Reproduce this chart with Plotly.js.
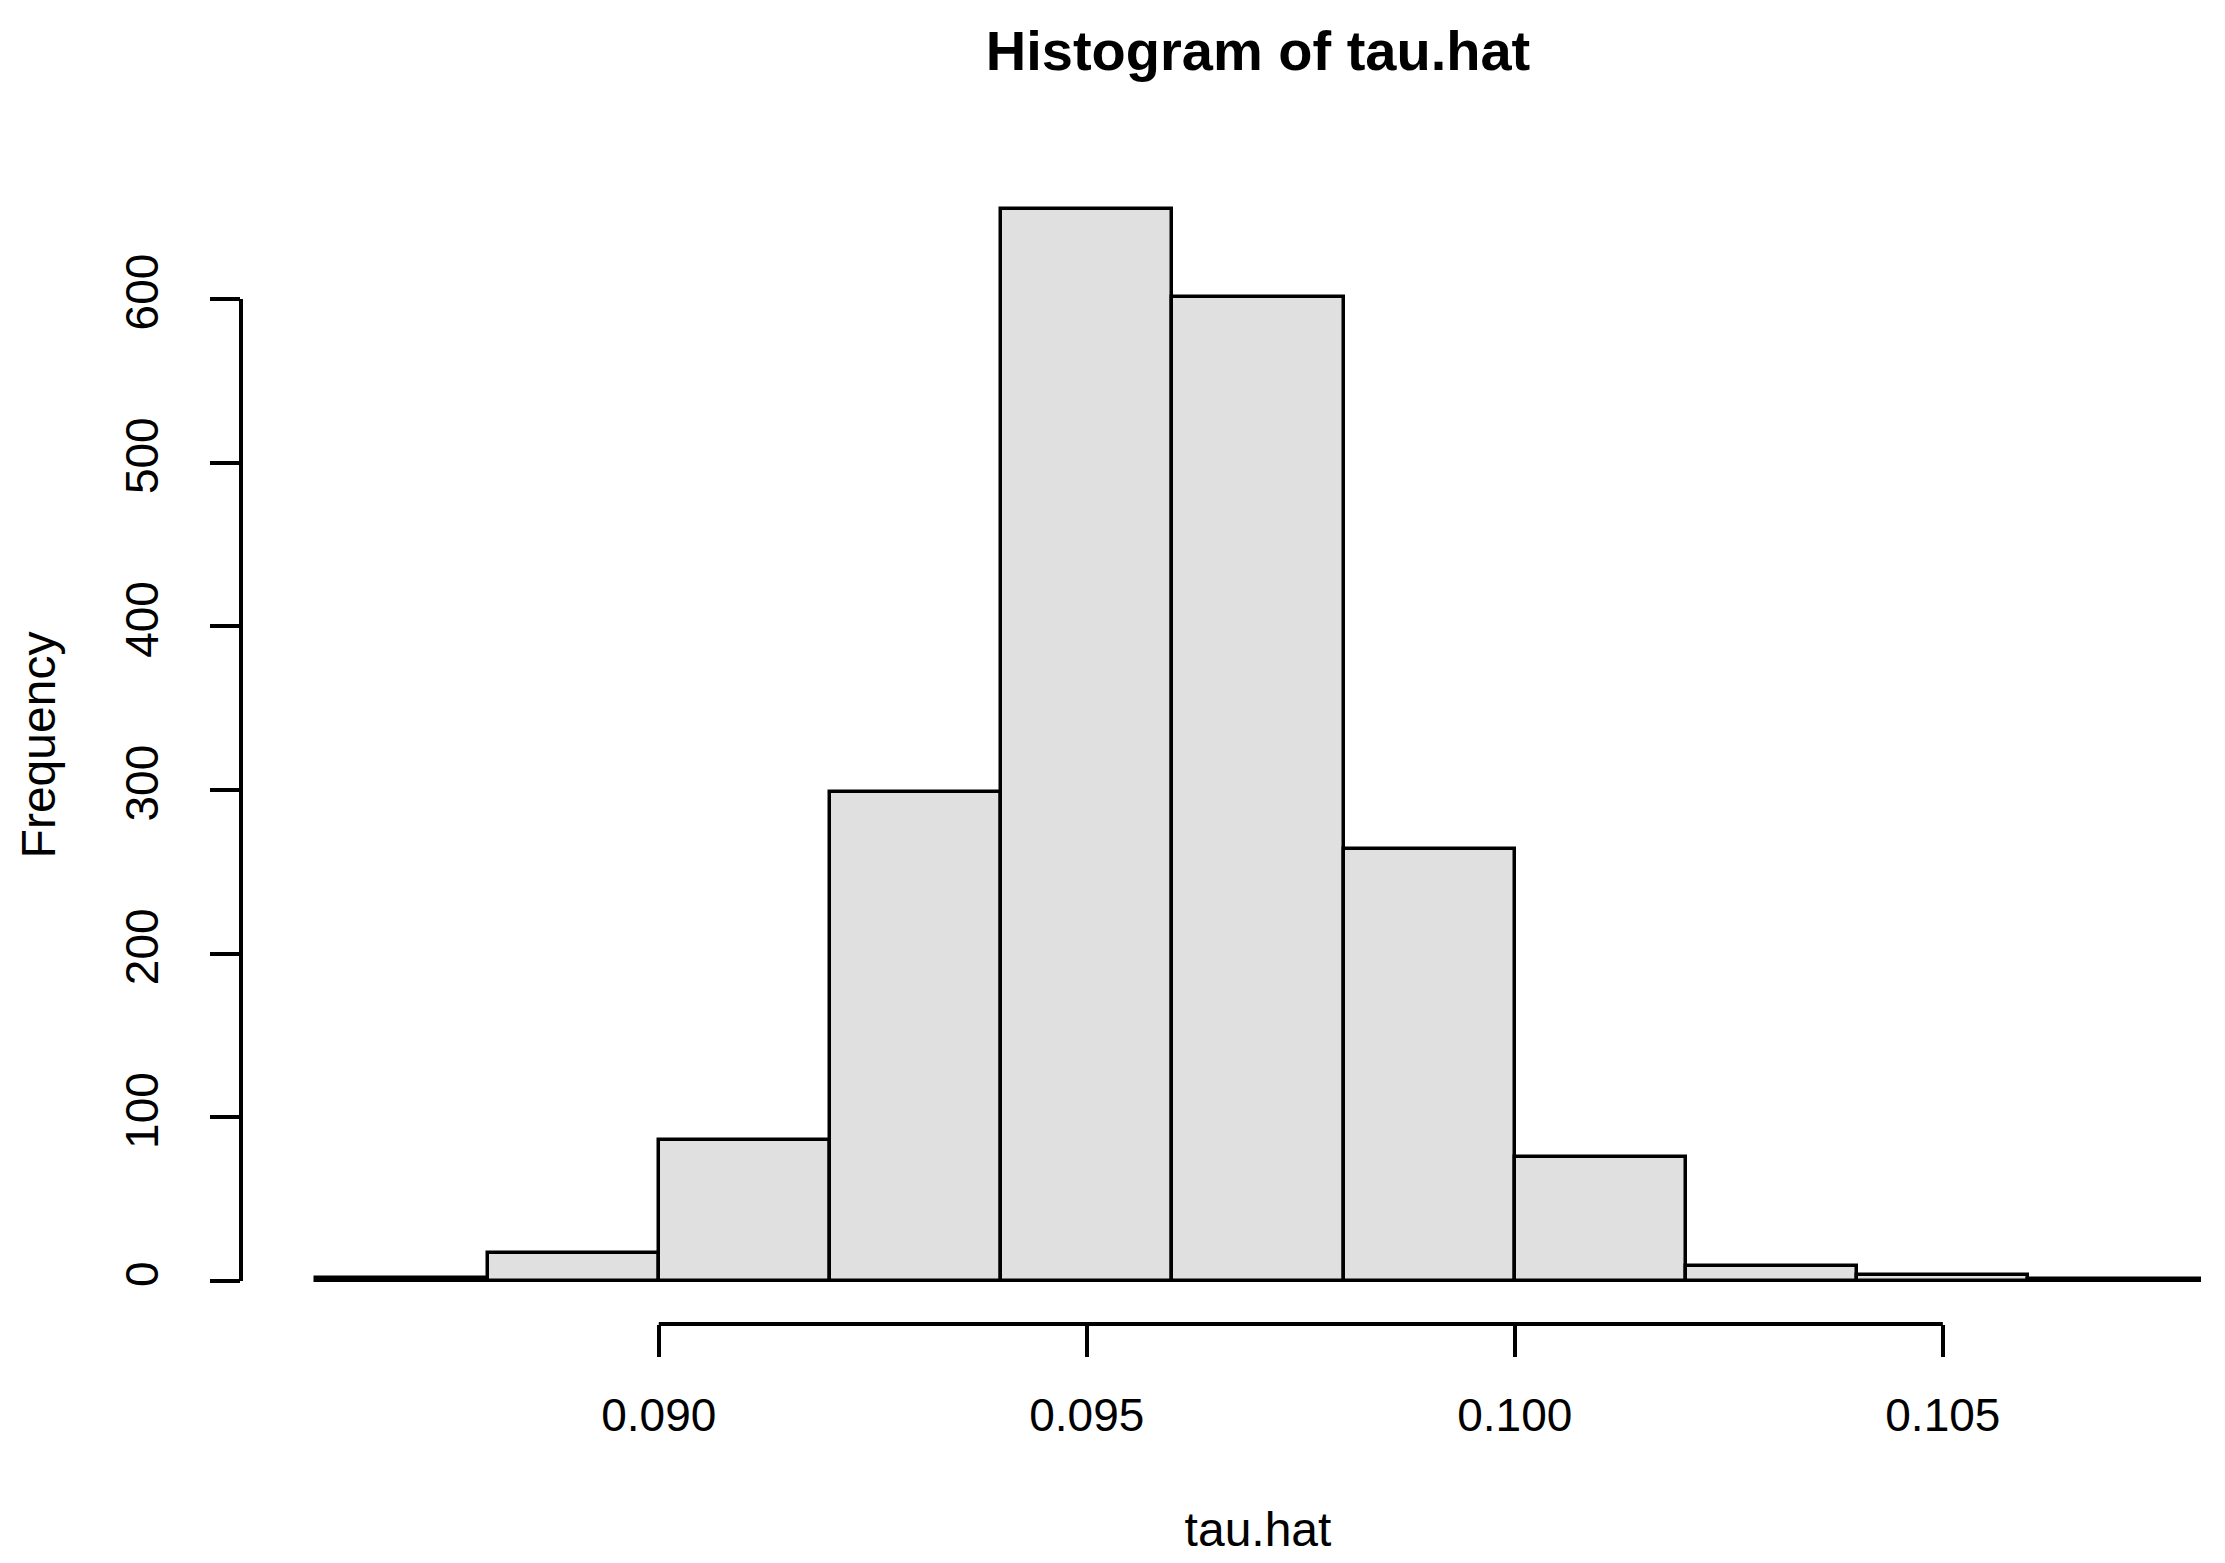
<!DOCTYPE html>
<html>
<head>
<meta charset="utf-8">
<script src="https://cdn.plot.ly/plotly-3.0.1.min.js"></script>
<style>
  html, body { margin: 0; padding: 0; background: #ffffff; overflow: hidden; }
  /* R device was wider than the saved picture, the right edge is cut off */
  #chart { width: 2275px; height: 1563px; }
</style>
</head>
<body>
<div id="chart"></div>
<script>
// Histogram data
const breaks = [0.086, 0.088, 0.090, 0.092, 0.094, 0.096, 0.098, 0.100, 0.102, 0.104, 0.106, 0.108];
const counts = [2, 17, 86, 299, 655, 601, 264, 76, 9, 4, 1];
const xTicks = [0.090, 0.095, 0.100, 0.105];
const xTickLabels = ['0.090', '0.095', '0.100', '0.105'];
const yTicks = [0, 100, 200, 300, 400, 500, 600];
const yTickLabels = ['0', '100', '200', '300', '400', '500', '600'];

document.addEventListener('DOMContentLoaded', function() {
    drawHistogram();
});

function drawHistogram() {
    const binStarts = breaks.slice(0, -1);
    const binWidth = breaks[1] - breaks[0];

    // R style axis range: data range padded by 4% on each side
    const xSpan = breaks[breaks.length - 1] - breaks[0];
    const xRange = [breaks[0] - 0.04 * xSpan, breaks[breaks.length - 1] + 0.04 * xSpan];
    const yMax = Math.max(...counts);
    const yRange = [-0.04 * yMax, 1.04 * yMax];

    const font = 'Liberation Sans, Arial, sans-serif';

    const data = [{
        type: 'bar',
        x: binStarts,
        y: counts,
        width: binWidth,
        offset: 0,
        marker: {
            color: '#e0e0e0',
            line: { color: '#000000', width: 3.5 }
        },
        hoverinfo: 'x+y'
    }];

    const layout = {
        width: 2275,
        height: 1563,
        margin: { l: 241, r: 0, t: 166, b: 239 },
        paper_bgcolor: '#ffffff',
        plot_bgcolor: '#ffffff',
        showlegend: false,
        bargap: 0,
        font: { family: font, color: '#000000', size: 45 },
        title: {
            text: 'Histogram of tau.hat',
            font: { family: font, size: 56, color: '#000000', weight: 'bold' },
            xref: 'paper',
            x: 0.5,
            xanchor: 'center',
            yref: 'container',
            y: 1 - 50 / 1563,
            yanchor: 'middle'
        },
        xaxis: {
            range: xRange,
            showgrid: false,
            zeroline: false,
            showline: false,
            tickmode: 'array',
            tickvals: xTicks,
            ticktext: xTickLabels,
            ticks: 'outside',
            ticklen: 32,
            tickwidth: 4,
            tickcolor: '#000000',
            tickfont: { family: font, size: 46 },
            ticklabelstandoff: 19,
            title: {
                text: 'tau.hat',
                font: { family: font, size: 48 },
                standoff: 72
            }
        },
        yaxis: {
            range: yRange,
            showgrid: false,
            zeroline: false,
            showline: false,
            tickmode: 'array',
            tickvals: yTicks,
            ticktext: yTickLabels,
            tickangle: -90,
            ticks: 'outside',
            ticklen: 30,
            tickwidth: 4,
            tickcolor: '#000000',
            tickfont: { family: font, size: 46 },
            ticklabelstandoff: 34,
            title: {
                text: 'Frequency',
                font: { family: font, size: 48 },
                standoff: 44
            }
        },
        // R draws each axis line only between its first and last tick
        shapes: [
            {
                type: 'line',
                xref: 'paper', yref: 'y',
                x0: 0, x1: 0,
                y0: yTicks[0], y1: yTicks[yTicks.length - 1],
                line: { color: '#000000', width: 4 }
            },
            {
                type: 'line',
                xref: 'x', yref: 'paper',
                x0: xTicks[0], x1: xTicks[xTicks.length - 1],
                y0: 0, y1: 0,
                line: { color: '#000000', width: 4 }
            }
        ]
    };

    Plotly.newPlot('chart', data, layout, { displayModeBar: false, responsive: false });
}
</script>
</body>
</html>
